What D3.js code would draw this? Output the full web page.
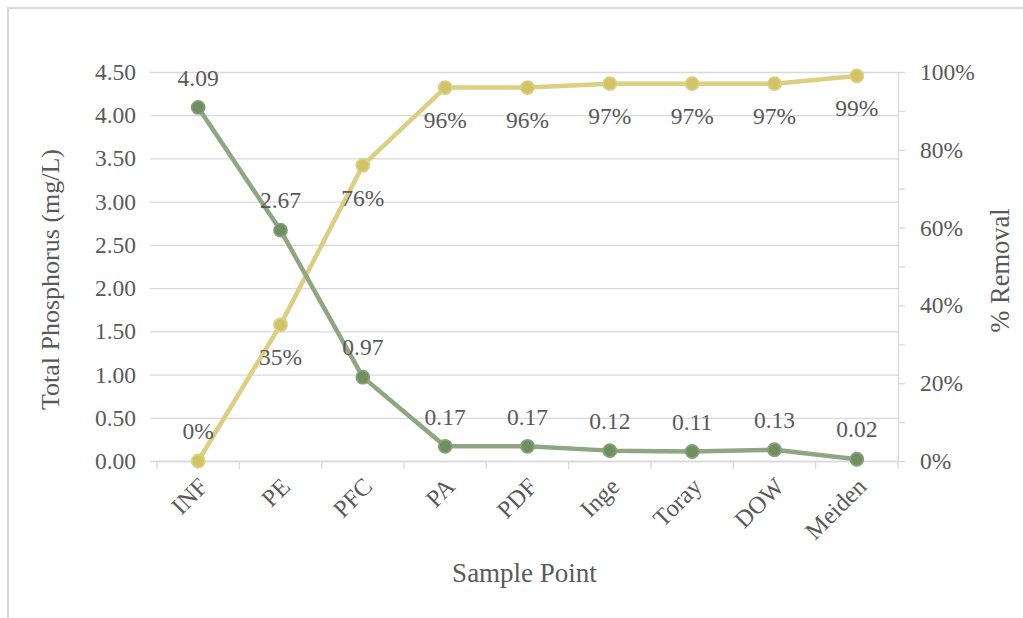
<!DOCTYPE html>
<html>
<head>
<meta charset="utf-8">
<script src="https://cdn.jsdelivr.net/npm/d3@7"></script>
<style>
  html, body { margin: 0; padding: 0; background: #fff; }
  svg { display: block; }
</style>
</head>
<body>
<svg id="chart" width="1023" height="618"></svg>
<script>
// Sample points along the treatment train
const categories = ["INF", "PE", "PFC", "PA", "PDF", "Inge", "Toray", "DOW", "Meiden"];
// Total phosphorus concentration (mg/L)
const phosphorus = [4.09, 2.67, 0.97, 0.17, 0.17, 0.12, 0.11, 0.13, 0.02];
// Cumulative removal (%)
const removal = [0, 35, 76, 96, 96, 97, 97, 97, 99];
// Axis ticks
const leftTicks = [0, 0.5, 1, 1.5, 2, 2.5, 3, 3.5, 4, 4.5];
const rightTicks = [0, 20, 40, 60, 80, 100];
const rightMinorTicks = [0, 10, 20, 30, 40, 50, 60, 70, 80, 90, 100];

const FONT = '"Liberation Serif"';
const TXT = "#595959";
const svg = d3.select("#chart");
const W = 1023, H = 618;
const plot = { left: 157, right: 898, top: 72, bottom: 461 };
const grid = "#d9d9d9";

function styleText(sel, size) {
  sel.attr("font-family", null).attr("font-size", size)
    .style("font-family", FONT).style("fill", TXT);
}

// Outer frame
svg.append("rect")
  .attr("x", 8).attr("y", 8)
  .attr("width", W + 20).attr("height", H + 20)
  .attr("fill", "none").attr("stroke", grid).attr("stroke-width", 2);

const x = d3.scaleBand().domain(categories).range([plot.left, plot.right]);
const yL = d3.scaleLinear().domain([0, 4.5]).range([plot.bottom, plot.top]);
const yR = d3.scaleLinear().domain([0, 100]).range([plot.bottom, plot.top]);
const cx = d => x(d) + x.bandwidth() / 2;

// Horizontal gridlines with outward ticks on the left
const leftAxis = svg.append("g")
  .attr("transform", `translate(${plot.left},0)`)
  .call(d3.axisLeft(yL).tickValues(leftTicks).tickFormat(d3.format(".2f"))
    .tickSizeInner(-(plot.right - plot.left)).tickSizeOuter(0).tickPadding(21));
leftAxis.attr("font-family", null).attr("font-size", null);
leftAxis.select(".domain").remove();
leftAxis.selectAll("line").attr("stroke", grid).attr("stroke-width", 1.3)
  .attr("x1", -7);
styleText(leftAxis.selectAll("text"), 23.5);

// Right axis with minor ticks every 10%
const rightAxis = svg.append("g")
  .attr("transform", `translate(${plot.right},0)`)
  .call(d3.axisRight(yR).tickValues(rightMinorTicks)
    .tickFormat(d => rightTicks.includes(d) ? d + "%" : "")
    .tickSizeInner(7).tickSizeOuter(0).tickPadding(15));
rightAxis.attr("font-family", null).attr("font-size", null);
rightAxis.select(".domain").attr("stroke", grid).attr("stroke-width", 1.3);
rightAxis.selectAll("line").attr("stroke", grid).attr("stroke-width", 1.3);
styleText(rightAxis.selectAll("text"), 23.5);

// Category axis: ticks between categories, rotated labels
const bottomAxis = svg.append("g")
  .attr("transform", `translate(0,${plot.bottom})`)
  .call(d3.axisBottom(x).tickSize(0).tickFormat(""));
bottomAxis.attr("font-family", null).attr("font-size", null);
bottomAxis.select(".domain").attr("stroke", grid).attr("stroke-width", 1.3);
bottomAxis.selectAll(".tick").remove();
const bounds = categories.map(c => x(c)).concat([plot.right]);
bottomAxis.selectAll("line.sep").data(bounds).join("line")
  .attr("class", "sep")
  .attr("x1", d => d).attr("x2", d => d)
  .attr("y1", 0).attr("y2", 8)
  .attr("stroke", grid).attr("stroke-width", 1.3);
bottomAxis.selectAll("text.cat").data(categories).join("text")
  .attr("class", "cat")
  .attr("transform", d => `translate(${cx(d) + 5},${21}) rotate(-45)`)
  .attr("text-anchor", "end")
  .attr("dy", "0.35em")
  .text(d => d)
  .call(styleText, 24.5);

// Axis titles
svg.append("text")
  .attr("transform", `translate(59,${(plot.top + plot.bottom) / 2 + 13}) rotate(-90)`)
  .attr("text-anchor", "middle")
  .text("Total Phosphorus (mg/L)")
  .call(styleText, 26);
svg.append("text")
  .attr("transform", `translate(1009,${(plot.top + plot.bottom) / 2 + 4}) rotate(-90)`)
  .attr("text-anchor", "middle")
  .text("% Removal")
  .call(styleText, 26.5);
svg.append("text")
  .attr("x", (plot.left + plot.right) / 2 - 3)
  .attr("y", 582)
  .attr("text-anchor", "middle")
  .text("Sample Point")
  .call(styleText, 27);

// Series styling
const tpLine = "#8fa682", tpMark = "#6f8f5f", tpStroke = "#86a078";
const rmLine = "#dccf82", rmMark = "#d2c367", rmStroke = "#dbcf80";

// Removal series
svg.append("path")
  .datum(removal)
  .attr("fill", "none").attr("stroke", rmLine).attr("stroke-width", 4.5)
  .attr("stroke-linejoin", "round")
  .attr("d", d3.line().x((d, i) => cx(categories[i])).y(d => yR(d)));
svg.selectAll("circle.rm").data(removal).join("circle")
  .attr("class", "rm")
  .attr("cx", (d, i) => cx(categories[i])).attr("cy", d => yR(d))
  .attr("r", 6.5)
  .attr("fill", rmMark).attr("stroke", rmStroke).attr("stroke-width", 1.8);

// Phosphorus series
svg.append("path")
  .datum(phosphorus)
  .attr("fill", "none").attr("stroke", tpLine).attr("stroke-width", 4.5)
  .attr("stroke-linejoin", "round")
  .attr("d", d3.line().x((d, i) => cx(categories[i])).y(d => yL(d)));
svg.selectAll("circle.tp").data(phosphorus).join("circle")
  .attr("class", "tp")
  .attr("cx", (d, i) => cx(categories[i])).attr("cy", d => yL(d))
  .attr("r", 6.5)
  .attr("fill", tpMark).attr("stroke", tpStroke).attr("stroke-width", 1.8);

// Data labels
svg.selectAll("text.tpl").data(phosphorus).join("text")
  .attr("class", "tpl")
  .attr("x", (d, i) => cx(categories[i]))
  .attr("y", d => yL(d) - 30)
  .attr("dy", "0.35em")
  .attr("text-anchor", "middle")
  .text(d => d3.format(".2f")(d))
  .call(styleText, 23.5);
svg.selectAll("text.rml").data(removal).join("text")
  .attr("class", "rml")
  .attr("x", (d, i) => cx(categories[i]))
  .attr("y", (d, i) => i === 0 ? yR(d) - 30 : yR(d) + 32)
  .attr("dy", "0.35em")
  .attr("text-anchor", "middle")
  .text(d => d + "%")
  .call(styleText, 23.5);
</script>
</body>
</html>
